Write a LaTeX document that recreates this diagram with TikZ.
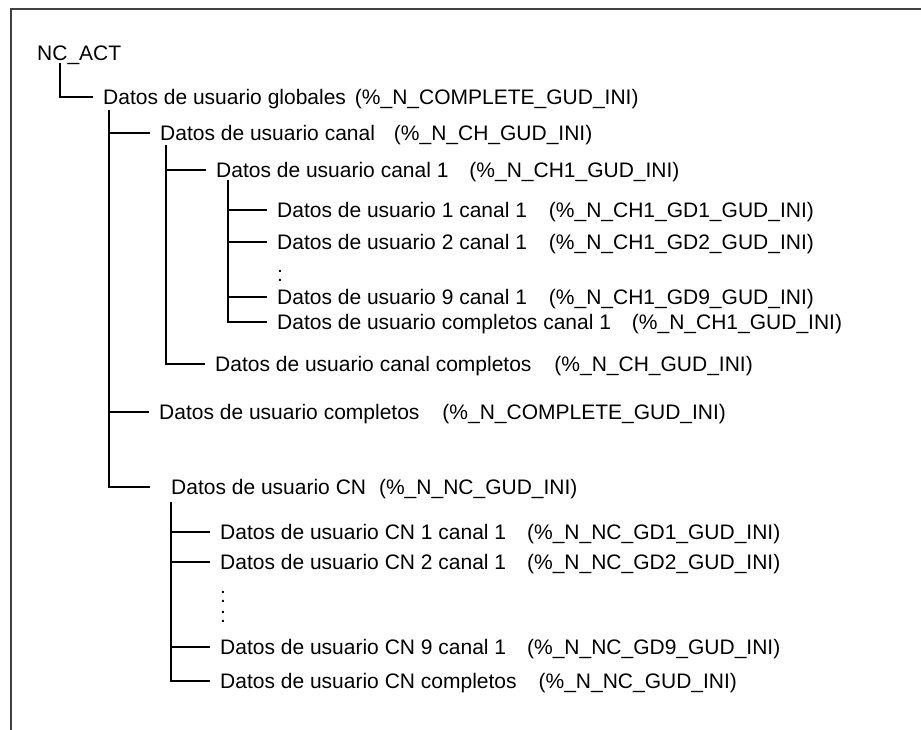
\documentclass[tikz,border=0pt]{standalone}
\usepackage{fontspec}
\setmainfont{Liberation Sans}
\newcommand{\pgap}[1]{\hspace{#1pt}}
\begin{document}
\begin{tikzpicture}[x=1pt,y=-1pt,
  frame/.style={line width=1.4pt, draw=black!75},
  branch/.style={line width=2.7pt, line join=miter},
  item/.style={anchor=west, inner xsep=10pt, inner ysep=0pt,
    text height=15pt, text depth=0pt,
    font=\fontsize{21}{25}\selectfont}
]
\useasboundingbox (0,0) rectangle (921,730);
% page frame (top and left edges only)
\draw[frame] (11,730) -- (11,9) -- (921,9);

% tree entries
\node[item] (root) at (27,53) {NC\_ACT};
\node[item] (glob) at (93,97) {Datos de usuario globales\pgap{9}(\%\_N\_COMPLETE\_GUD\_INI)};
\node[item] (ch)   at (150,133) {Datos de usuario canal\pgap{19}(\%\_N\_CH\_GUD\_INI)};
\node[item] (ch1)  at (206,170) {Datos de usuario canal 1\pgap{21}(\%\_N\_CH1\_GUD\_INI)};
\node[item] (g1)   at (267,210) {Datos de usuario 1 canal 1\pgap{22}(\%\_N\_CH1\_GD1\_GUD\_INI)};
\node[item] (g2)   at (267,242) {Datos de usuario 2 canal 1\pgap{22}(\%\_N\_CH1\_GD2\_GUD\_INI)};
\node[item] (dA)   at (267,274) {:};
\node[item] (g9)   at (267,297) {Datos de usuario 9 canal 1\pgap{22}(\%\_N\_CH1\_GD9\_GUD\_INI)};
\node[item] (gc1)  at (267,322) {Datos de usuario completos canal 1\pgap{21}(\%\_N\_CH1\_GUD\_INI)};
\node[item] (chc)  at (205,364) {Datos de usuario canal completos\pgap{23}(\%\_N\_CH\_GUD\_INI)};
\node[item] (comp) at (149,412) {Datos de usuario completos\pgap{23}(\%\_N\_COMPLETE\_GUD\_INI)};
\node[item] (cn)   at (150,487) {\hspace{11pt}Datos de usuario CN\pgap{13}(\%\_N\_NC\_GUD\_INI)};
\node[item] (n1)   at (210,532) {Datos de usuario CN 1 canal 1\pgap{21}(\%\_N\_NC\_GD1\_GUD\_INI)};
\node[item] (n2)   at (210,562) {Datos de usuario CN 2 canal 1\pgap{21}(\%\_N\_NC\_GD2\_GUD\_INI)};
\node[item] (dB)   at (210,595) {:};
\node[item] (dC)   at (210,615) {:};
\node[item] (n9)   at (210,647) {Datos de usuario CN 9 canal 1\pgap{21}(\%\_N\_NC\_GD9\_GUD\_INI)};
\node[item] (nc)   at (210,681) {Datos de usuario CN completos\pgap{22}(\%\_N\_NC\_GUD\_INI)};

% tree connectors
\coordinate (v0) at (60,63);
\draw[branch] (v0) |- (glob.west);

\coordinate (v1) at (109,110);
\draw[branch] (v1 |- ch.west) -- (ch.west);
\draw[branch] (v1 |- comp.west) -- (comp.west);
\draw[branch] (v1) |- (cn.west);

\coordinate (v2) at (166,145);
\draw[branch] (v2 |- ch1.west) -- (ch1.west);
\draw[branch] (v2) |- (chc.west);

\coordinate (v3) at (228,180);
\draw[branch] (v3 |- g1.west) -- (g1.west);
\draw[branch] (v3 |- g2.west) -- (g2.west);
\draw[branch] (v3 |- g9.west) -- (g9.west);
\draw[branch] (v3) |- (gc1.west);

\coordinate (v4) at (171,502);
\draw[branch] (v4 |- n1.west) -- (n1.west);
\draw[branch] (v4 |- n2.west) -- (n2.west);
\draw[branch] (v4 |- n9.west) -- (n9.west);
\draw[branch] (v4) |- (nc.west);
\end{tikzpicture}
\end{document}
